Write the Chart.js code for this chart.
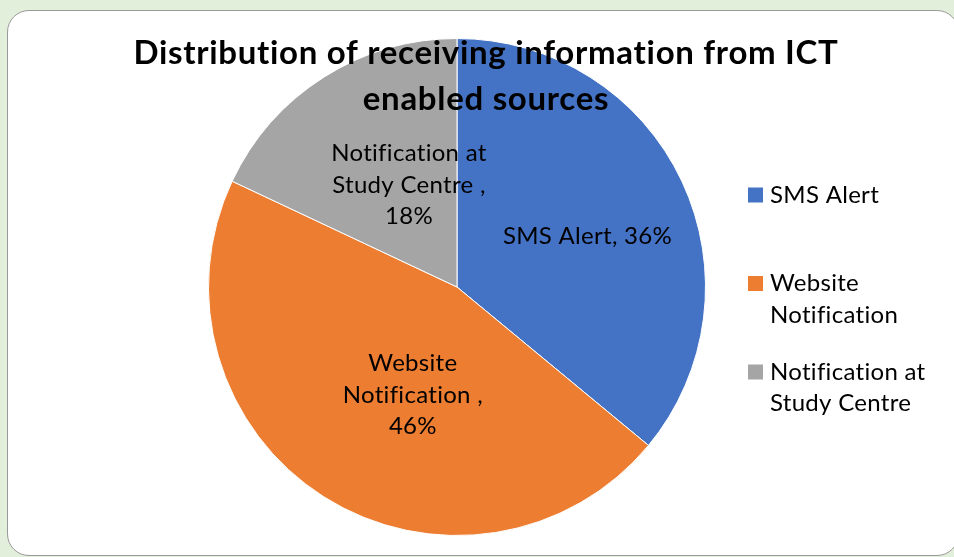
<!DOCTYPE html>
<html><head><meta charset="utf-8">
<script src="https://cdn.jsdelivr.net/npm/chart.js@4.4.1/dist/chart.umd.min.js"></script>
<style>
html,body{margin:0;padding:0;background:#e2efda;}
#wrap{position:relative;width:954px;height:557px;overflow:hidden;}
#box{position:absolute;left:7px;top:10px;width:952px;height:546px;background:#fff;border:1px solid #9a9a9a;border-radius:22px;box-sizing:border-box;}
#c{position:absolute;left:0;top:0;}
</style></head><body>
<div id="wrap"><div id="box"></div><canvas id="c" width="954" height="557"></canvas></div>
<script>
const categories = ['SMS Alert', 'Website Notification', 'Notification at Study Centre'];
const values = [36, 46, 18];
const colors = ['#4472C4', '#ED7D31', '#A5A5A5'];
const titleLines = ['Distribution of receiving information from ICT', 'enabled sources'];
const nameLines = [['SMS Alert'], ['Website', 'Notification '], ['Notification at', 'Study Centre ']];

const FONT = 'Lato, "Liberation Sans", sans-serif';

function labelLines(i) {
  const n = nameLines[i];
  if (n.length === 1) return [n[0] + ', ' + values[i] + '%'];
  return [...n.slice(0, -1), n[n.length - 1] + ',', values[i] + '%'];
}

// label placement inside slices (fraction of radius, angular shift in degrees)
const labelFrac = [0.564, 0.47, 0.454];
const labelShift = [3.8, -10.2, 7.2];

const overlay = {
  id: 'overlay',
  afterDraw(chart) {
    const ctx = chart.ctx;
    ctx.save();
    // title
    ctx.fillStyle = '#000';
    ctx.textAlign = 'center';
    ctx.textBaseline = 'alphabetic';
    ctx.font = 'bold 33px ' + FONT;
    ctx.letterSpacing = '0.7px';
    titleLines.forEach((t, k) => ctx.fillText(t, 486, 64 + k * 46));

    // data labels
    const meta = chart.getDatasetMeta(0);
    ctx.font = '24px ' + FONT;
    ctx.letterSpacing = '0.3px';
    ctx.textBaseline = 'middle';
    meta.data.forEach((arc, i) => {
      const p = arc.getProps(['x', 'y', 'startAngle', 'endAngle', 'outerRadius'], true);
      const mid = (p.startAngle + p.endAngle) / 2 + labelShift[i] * Math.PI / 180;
      const r = p.outerRadius * labelFrac[i];
      const cx = p.x + Math.cos(mid) * r;
      const cy = p.y + Math.sin(mid) * r;
      const lines = labelLines(i);
      const lh = 31.5;
      lines.forEach((l, k) => {
        ctx.fillText(l, cx, cy + (k - (lines.length - 1) / 2) * lh);
      });
    });

    // legend
    ctx.textAlign = 'left';
    ctx.font = '24px ' + FONT;
    const legTop = 195, legGap = 88.5, lh = 31.5;
    categories.forEach((c, i) => {
      const y = legTop + i * legGap;
      ctx.fillStyle = colors[i];
      ctx.fillRect(748, y - 7.5, 15, 15);
      ctx.fillStyle = '#000';
      nameLines[i].forEach((l, k) => ctx.fillText(l.trim(), 770, y + k * lh));
    });
    ctx.restore();
  }
};

new Chart(document.getElementById('c'), {
  type: 'pie',
  data: {
    labels: categories,
    datasets: [{
      data: values,
      backgroundColor: colors,
      borderColor: '#ffffff',
      borderWidth: 1
    }]
  },
  options: {
    responsive: false,
    animation: false,
    layout: { padding: { left: 208, right: 248, top: 38, bottom: 21 } },
    plugins: {
      legend: { display: false },
      title: { display: false },
      tooltip: { enabled: false }
    }
  },
  plugins: [overlay]
});
</script>
</body></html>
